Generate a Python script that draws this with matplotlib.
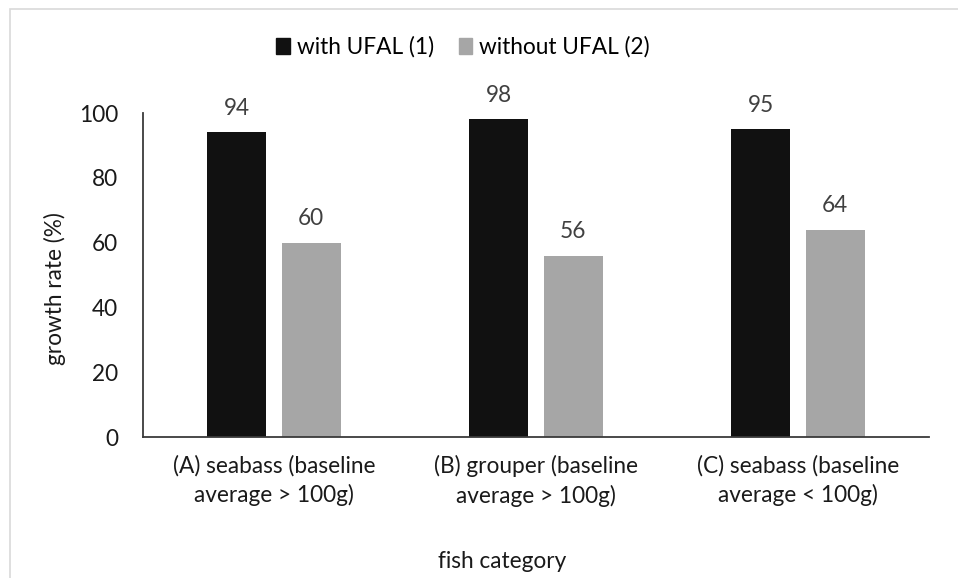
import matplotlib
matplotlib.use("Agg")
import matplotlib.pyplot as plt
from matplotlib.patches import Rectangle, Patch
import numpy as np

categories = ["(A) seabass (baseline\naverage > 100g)",
              "(B) grouper (baseline\naverage > 100g)",
              "(C) seabass (baseline\naverage < 100g)"]
with_ufal = [94, 98, 95]
without_ufal = [60, 56, 64]
series_names = ["with UFAL (1)", "without UFAL (2)"]
y_ticks = [0, 20, 40, 60, 80, 100]

plt.rcParams['font.family'] = ['Lato', 'DejaVu Sans']
FS = 16.3

W, H = 958, 578
fig = plt.figure(figsize=(W / 100, H / 100), dpi=100)

# light chart-area frame
fig.patches.append(Rectangle((10 / W, -0.1), 1.2, (H - 9) / H + 0.1,
                             transform=fig.transFigure, fill=False,
                             edgecolor="#d9d9d9", linewidth=1.2))

ax = fig.add_axes([143 / W, (H - 437) / H, (929 - 143) / W, (437 - 113) / H])

x = np.arange(len(categories))
width = 0.225
offset = 0.142
b1 = ax.bar(x - offset, with_ufal, width, color="#111111", label=series_names[0])
b2 = ax.bar(x + offset, without_ufal, width, color="#a6a6a6", label=series_names[1])

for bars, vals in ((b1, with_ufal), (b2, without_ufal)):
    for rect, v in zip(bars, vals):
        ax.annotate(f"{v}", (rect.get_x() + rect.get_width() / 2, v),
                    xytext=(0, 24), textcoords="offset pixels",
                    ha="center", va="center", fontsize=FS, color="#404040")

ax.set_xlim(-0.5, 2.5)
ax.set_ylim(0, 100)
ax.set_yticks(y_ticks)
ax.set_xticks(x)
ax.set_xticklabels(categories, fontsize=FS, color="#1a1a1a", linespacing=1.42)
ax.tick_params(axis="y", length=0, pad=18, labelsize=FS, labelcolor="#1a1a1a")
ax.tick_params(axis="x", length=0, pad=13)

for s in ("top", "right"):
    ax.spines[s].set_visible(False)
for s in ("left", "bottom"):
    ax.spines[s].set_color("#3a3a3a")
    ax.spines[s].set_linewidth(1.3)

ax.set_ylabel("growth rate (%)", fontsize=FS, color="#1a1a1a")
ax.yaxis.set_label_coords(66 / W, 0.5, transform=fig.transFigure)
fig.text(502 / W, (H - 562) / H, "fish category", ha="center", va="center",
         fontsize=FS, color="#1a1a1a")

handles = [Patch(color="#111111"), Patch(color="#a6a6a6")]
fig.legend(handles, series_names, loc="center", bbox_to_anchor=(463 / W, (H - 47) / H),
           ncol=2, frameon=False, fontsize=FS, handlelength=0.6, handleheight=0.7,
           handletextpad=0.3, columnspacing=1.1)

fig.savefig("out.png", dpi=100)
